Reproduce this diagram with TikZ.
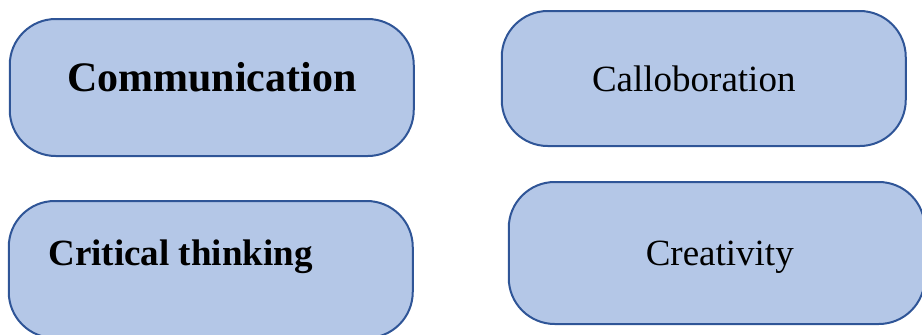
\documentclass[tikz,border=0pt]{standalone}
\usepackage{fontspec}
\setmainfont{Liberation Serif}
\usetikzlibrary{positioning}
\definecolor{skillfill}{HTML}{B4C7E7}
\definecolor{skillline}{HTML}{2F5597}
\tikzset{
skill/.style={draw=skillline, fill=skillfill, line width=2pt, rounded corners=46pt,
  inner sep=0pt, outer sep=0pt, minimum width=404pt, minimum height=137pt},
skilltext/.style={font=\fontsize{37}{44}\selectfont, inner sep=0pt},
}
\newcommand{\bigbold}{\fontsize{42}{50}\selectfont\bfseries}

\begin{document}
\begin{tikzpicture}
\clip (0,0) rectangle (922pt,-335pt);
\useasboundingbox (0,0) rectangle (922pt,-335pt);
    \node[skill] (comm) at (211.75pt,-87.5pt) {};
    \node[skill, right=88pt of comm, yshift=9pt, minimum height=135pt] (coll) {};
    \node[skill, below=45pt of comm, xshift=-1pt] (crit) {};
    \node[skill, right=96pt of crit, yshift=16.5pt, minimum width=416pt, minimum height=142pt] (crea) {};
% box texts
    \node[skilltext, anchor=base, font=\bigbold] (commtxt) at ([yshift=-3.5pt]comm.center) {Communication};
    \node[skilltext, anchor=base] (colltxt) at ([xshift=-10pt, yshift=-13pt]coll.center) {Calloboration};
    \node[skilltext, anchor=base west, font=\fontsize{37}{44}\selectfont\bfseries] (crittxt) at ([xshift=39.5pt, yshift=4.5pt]crit.west) {Critical thinking};
    \node[skilltext, anchor=base] (creatxt) at ([xshift=3pt, yshift=-12pt]crea.center) {Creativity};
\end{tikzpicture}
\end{document}
